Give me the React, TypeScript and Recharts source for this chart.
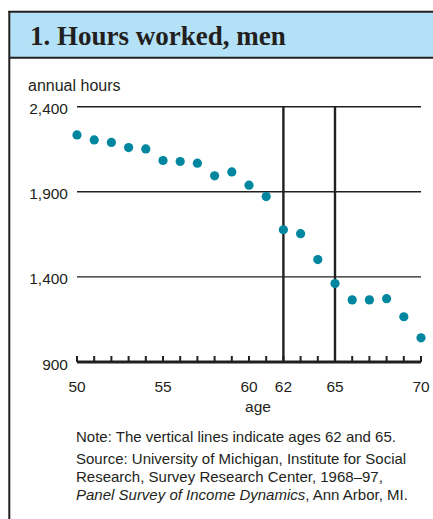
import React from 'react';
import { ScatterChart, Scatter, XAxis, YAxis, CartesianGrid, ReferenceLine } from 'recharts';

const ages = [50, 51, 52, 53, 54, 55, 56, 57, 58, 59, 60, 61, 62, 63, 64, 65, 66, 67, 68, 69, 70];
const hours = [2234, 2205, 2190, 2160, 2152, 2084, 2078, 2068, 1994, 2017, 1939, 1872, 1677, 1654, 1502, 1361, 1265, 1265, 1272, 1166, 1042];
const yTicks = [900, 1400, 1900, 2400];
const xLabels = [50, 55, 60, 62, 65, 70];
const markedAges = [62, 65];

const title = '1. Hours worked, men';
const yAxisTitle = 'annual hours';
const xAxisTitle = 'age';
const noteText = 'Note: The vertical lines indicate ages 62 and 65.';
const sourceLines = [
  'Source: University of Michigan, Institute for Social',
  'Research, Survey Research Center, 1968\u201397,',
];
const sourceItalic = 'Panel Survey of Income Dynamics';
const sourceTail = ', Ann Arbor, MI.';

const data = ages.map((a, i) => ({ age: a, hours: hours[i] }));

const INK = '#231f20';
const DOT = '#00879f';
const SANS = '"Liberation Sans", Arial, Helvetica, sans-serif';
const SERIF = '"Liberation Serif", "Times New Roman", serif';

const fmt = (v: number) => v.toLocaleString('en-US');

const XTick = (props: any) => {
  const { x, y, payload } = props;
  const show = xLabels.includes(payload.value);
  return (
    <g>
      <line x1={x} x2={x} y1={y} y2={y - 6} stroke={INK} strokeWidth={2} />
      {show && (
        <text x={x} y={y + 30} textAnchor="middle" fontSize={15.5} fill={INK} fontFamily={SANS}>
          {payload.value}
        </text>
      )}
    </g>
  );
};

const YTick = (props: any) => {
  const { x, y, payload } = props;
  return (
    <text x={x - 9} y={y + 7.5} textAnchor="end" fontSize={15.5} fill={INK} fontFamily={SANS}>
      {fmt(payload.value)}
    </text>
  );
};

const Dot = (props: any) => <circle cx={props.cx} cy={props.cy} r={4.6} fill={DOT} />;

export default function App() {
  return (
    <div style={{ position: 'absolute', left: 0, top: 0, width: 433, height: 519, background: '#fff' }}>
      <svg width={433} height={519} style={{ position: 'absolute', left: 0, top: 0 }}>
        <rect x={9} y={12} width={424} height={45.5} fill="#b3e1f7" />
        <line x1={8.3} x2={433} y1={11.7} y2={11.7} stroke={INK} strokeWidth={2} />
        <line x1={9.3} x2={9.3} y1={11} y2={519} stroke={INK} strokeWidth={2} />
        <line x1={9} x2={433} y1={57.7} y2={57.7} stroke={INK} strokeWidth={2} />
        <text x={30} y={45} fontSize={27} fontWeight="bold" fontFamily={SERIF} fill={INK}>{title}</text>
        <text x={28} y={91} fontSize={16} fontFamily={SANS} fill={INK}>{yAxisTitle}</text>
        <text x={258} y={412} fontSize={15.5} fontFamily={SANS} fill={INK} textAnchor="middle">{xAxisTitle}</text>
        <text x={76} y={441.7} fontSize={15} fontFamily={SANS} fill={INK}>{noteText}</text>
        <text x={76} y={464.3} fontSize={15} fontFamily={SANS} fill={INK}>{sourceLines[0]}</text>
        <text x={76} y={482} fontSize={15} fontFamily={SANS} fill={INK}>{sourceLines[1]}</text>
        <text x={76} y={500} fontSize={15} fontFamily={SANS} fill={INK}>
          <tspan fontStyle="italic">{sourceItalic}</tspan>
          <tspan>{sourceTail}</tspan>
        </text>
      </svg>
      <div style={{ position: 'absolute', left: 0, top: 0 }}>
        <ScatterChart width={433} height={519} margin={{ top: 106.7, right: 12, bottom: 127, left: 17 }}>
          <CartesianGrid horizontal vertical={false} stroke={INK} strokeWidth={1.4} />
          <XAxis
            type="number"
            dataKey="age"
            domain={[50, 70]}
            ticks={ages}
            interval={0}
            height={30}
            tickSize={0}
            tickMargin={0}
            tickLine={false}
            axisLine={{ stroke: INK, strokeWidth: 3 }}
            tick={<XTick />}
          />
          <YAxis
            type="number"
            dataKey="hours"
            domain={[900, 2400]}
            ticks={yTicks}
            interval={0}
            width={60}
            tickSize={0}
            tickMargin={0}
            tickLine={false}
            axisLine={false}
            tick={<YTick />}
          />
          {markedAges.map((a) => (
            <ReferenceLine key={a} x={a} stroke={INK} strokeWidth={2.4} />
          ))}
          <Scatter data={data} fill={DOT} shape={<Dot />} isAnimationActive={false} />
        </ScatterChart>
      </div>
    </div>
  );
}
